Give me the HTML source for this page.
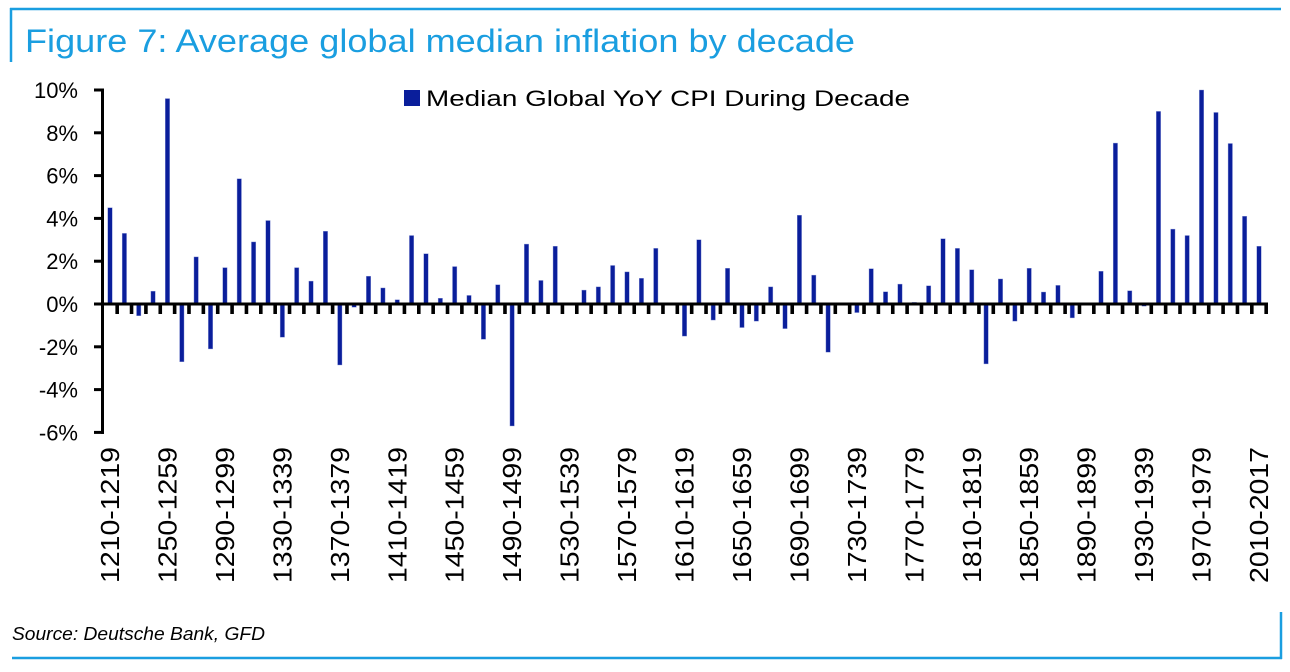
<!DOCTYPE html>
<html><head><meta charset="utf-8"><style>
html,body{margin:0;padding:0;background:#fff;}
svg{display:block;font-family:"Liberation Sans",sans-serif;}
</style></head><body>
<svg id="chart" width="1290" height="672" viewBox="0 0 1290 672">
  <line x1="10" y1="9" x2="1281" y2="9" stroke="#1a9ee0" stroke-width="2.5"/>
  <line x1="11" y1="8" x2="11" y2="62" stroke="#1a9ee0" stroke-width="2.5"/>
  <line x1="12" y1="658" x2="1282" y2="658" stroke="#1a9ee0" stroke-width="2.5"/>
  <line x1="1281" y1="612" x2="1281" y2="659" stroke="#1a9ee0" stroke-width="2.5"/>
  <text x="25" y="52" font-size="32" fill="#1a9ee0" textLength="830" lengthAdjust="spacingAndGlyphs">Figure 7: Average global median inflation by decade</text>
  <rect x="404" y="90" width="16" height="16" fill="#0a1e9b"/>
  <text x="426" y="106" font-size="22" fill="#000" textLength="484" lengthAdjust="spacingAndGlyphs">Median Global YoY CPI During Decade</text>
  <text x="12" y="640" font-size="18" font-style="italic" fill="#000" textLength="253" lengthAdjust="spacingAndGlyphs">Source: Deutsche Bank, GFD</text>
  <g id="plot"></g>
</svg>
<script>
const decades = [];
for (let d = 1210; d <= 2010; d += 10) decades.push(d);
const values = [4.5,3.3,-0.55,0.6,9.6,-2.7,2.2,-2.1,1.7,5.85,2.9,3.9,-1.55,1.7,1.07,3.4,-2.85,-0.15,1.3,0.75,0.2,3.2,2.35,0.27,1.75,0.4,-1.65,0.9,-5.7,2.8,1.1,2.7,0,0.65,0.8,1.8,1.5,1.2,2.6,0,-1.5,3.0,-0.75,1.67,-1.1,-0.8,0.8,-1.15,4.15,1.35,-2.25,0,-0.4,1.65,0.57,0.93,0.08,0.85,3.05,2.6,1.6,-2.8,1.17,-0.8,1.67,0.56,0.87,-0.65,0,1.53,7.52,0.62,-0.1,9.0,3.5,3.2,10.0,8.95,7.5,4.1,2.7];
const yTicks = [10,8,6,4,2,0,-2,-4,-6];
const xLabelEvery = 4;

const NS = "http://www.w3.org/2000/svg";
const g = document.getElementById('plot');
const x0 = 110, x1 = 1259;
const yZero = 304, pxPerPct = 21.4;
function xs(i){ return x0 + i * (x1 - x0) / (decades.length - 1); }
function ys(v){ return yZero - v * pxPerPct; }
function mk(tag, attrs){ const e = document.createElementNS(NS, tag); for (const k in attrs) e.setAttribute(k, attrs[k]); g.appendChild(e); return e; }

values.forEach((v, i) => {
  const top = Math.min(ys(v), yZero), h = Math.abs(ys(v) - yZero);
  const r = mk('rect', {x: xs(i) - 2.2, y: top, width: 4.4, height: Math.max(h, 0.5), fill: '#0a1e9b', stroke: '#8a96d6', 'stroke-width': 0.4});
  
  
});
const step = (x1 - x0) / (decades.length - 1);
for (let i = 0; i < decades.length; i++) {
  const t = mk('rect', {x: xs(i) + step/2 - 1.8, y: yZero, width: 3.6, height: 10, fill: '#000'});
  
  
}
const xa = mk('line', {x1: 101, y1: yZero, x2: 1268, y2: yZero, stroke: '#000', 'stroke-width': 3});


const ya = mk('line', {x1: 102.5, y1: ys(10) - 1.5, x2: 102.5, y2: ys(-6) + 1.5, stroke: '#000', 'stroke-width': 3});


yTicks.forEach(t => {
  const tk = mk('line', {x1: 94, y1: ys(t), x2: 104, y2: ys(t), stroke: '#000', 'stroke-width': 3});
  
  
  const lb = mk('text', {x: 78, y: ys(t) + 8, 'font-size': 22, 'text-anchor': 'end', fill: '#000'});
  lb.textContent = t + '%';
  
  
});
decades.forEach((d, i) => {
  if (i % xLabelEvery !== 0) return;
  const end = d === 2010 ? 2017 : d + 9;
  const x = xs(i) + 9, y = 447;
  const lb = mk('text', {x: x, y: y, 'font-size': 26, 'text-anchor': 'end', fill: '#000', textLength: 136, lengthAdjust: 'spacingAndGlyphs', transform: `rotate(-90 ${x} ${y})`});
  lb.textContent = d + '-' + end;
  
  
});
</script>
</body></html>
